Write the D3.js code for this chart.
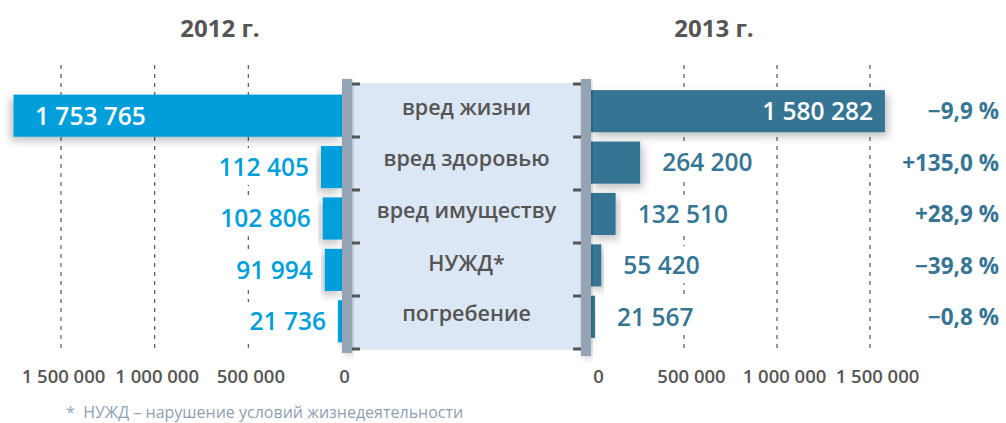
<!DOCTYPE html>
<html>
<head>
<meta charset="utf-8">
<script src="https://cdn.jsdelivr.net/npm/d3@7.9.0/dist/d3.min.js"></script>
<style>
  html, body { margin: 0; padding: 0; background: #fff; }
  svg { display: block; font-family: 'Open Sans', sans-serif; }
</style>
</head>
<body>
<svg id="chart" width="1006" height="423"></svg>
<script>
// data
const categories = ['вред жизни', 'вред здоровью', 'вред имуществу', 'НУЖД*', 'погребение'];
const values2012 = [1753765, 112405, 102806, 91994, 21736];
const values2013 = [1580282, 264200, 132510, 55420, 21567];
const years = ['2012 г.', '2013 г.'];
const tickValues = [0, 500000, 1000000, 1500000];
const footnote = '*  НУЖД – нарушение условий жизнедеятельности';

const colorLeft = '#009fdb';
const colorRight = '#367593';
const textGray = '#555555';

const locale = d3.formatLocale({ decimal: ',', thousands: ' ', grouping: [3], currency: ['', ''], minus: '−' });
const fmt = locale.format(',d');
const fmtPct = locale.format('+.1f');

const svg = d3.select('#chart');

// shadow filters
const defs = svg.append('defs');
function shadow(id, dx, dy, sd, op) {
  const f = defs.append('filter').attr('id', id)
    .attr('x', '-20%').attr('y', '-40%').attr('width', '140%').attr('height', '180%');
  f.append('feDropShadow').attr('dx', dx).attr('dy', dy)
    .attr('stdDeviation', sd).attr('flood-color', '#000').attr('flood-opacity', op);
}
shadow('shL', -3, 4, 4, 0.25);
shadow('shR', 3, 4, 4, 0.25);
shadow('shRail', 2, 2, 3, 0.2);

// scales
const xL = d3.scaleLinear().domain([0, 1500000]).range([342, 61]);
const xR = d3.scaleLinear().domain([0, 1500000]).range([591, 870]);
const y = d3.scaleBand().domain(categories).range([90, 347])
  .paddingInner(0.18).paddingOuter(0.09);
const rightShift = -4.5;
const sep = d3.scalePoint().domain(d3.range(categories.length + 1)).range([84, 349]);

// headers
svg.selectAll('text.year')
  .data(years)
  .join('text')
  .attr('class', 'year')
  .attr('x', (d, i) => i === 0 ? 220 : 714)
  .attr('y', 37)
  .attr('text-anchor', 'middle')
  .attr('font-size', 24)
  .attr('font-weight', 700)
  .attr('fill', textGray)
  .text((d) => d);

// dashed gridlines
const gridTicks = tickValues.filter((d) => d > 0);
const grid = svg.append('g').attr('stroke', textGray).attr('stroke-width', 1.2)
  .attr('stroke-dasharray', '4,5');
gridTicks.forEach((t) => {
  grid.append('line').attr('x1', xL(t)).attr('x2', xL(t)).attr('y1', 65).attr('y2', 352);
  grid.append('line').attr('x1', xR(t)).attr('x2', xR(t)).attr('y1', 65).attr('y2', 352);
});

// axis labels
function styleAxis(g) {
  g.select('.domain').remove();
  g.selectAll('text')
    .attr('font-size', 18.5)
    .attr('font-weight', 600)
    .attr('fill', textGray)
    .attr('font-family', "'Open Sans', sans-serif");
}
svg.append('g')
  .attr('transform', 'translate(2,370)')
  .call(d3.axisBottom(xL).tickValues(tickValues).tickSize(0).tickPadding(0).tickFormat(fmt))
  .call(styleAxis);
svg.append('g')
  .attr('transform', 'translate(7,370)')
  .call(d3.axisBottom(xR).tickValues(tickValues).tickSize(0).tickPadding(0).tickFormat(fmt))
  .call(styleAxis);

// bars
svg.append('g').selectAll('rect')
  .data(values2012)
  .join('rect')
  .attr('x', (d) => xL(d))
  .attr('y', (d, i) => y(categories[i]))
  .attr('width', (d) => xL(0) - xL(d))
  .attr('height', y.bandwidth())
  .attr('fill', colorLeft)
  .attr('filter', 'url(#shL)');

svg.append('g').selectAll('rect')
  .data(values2013)
  .join('rect')
  .attr('x', xR(0))
  .attr('y', (d, i) => y(categories[i]) + rightShift)
  .attr('width', (d) => xR(d) - xR(0))
  .attr('height', y.bandwidth())
  .attr('fill', colorRight)
  .attr('filter', 'url(#shR)');

// value labels
const valFont = 24.5;
function addLabel(g, x, cy, anchor, color, text, boxed) {
  const t = g.append('text')
    .attr('x', x)
    .attr('y', cy + 0.36 * valFont)
    .attr('text-anchor', anchor)
    .attr('font-size', valFont)
    .attr('font-weight', 600)
    .attr('fill', color)
    .text(text);
  if (boxed) {
    const b = t.node().getBBox();
    g.insert('rect', () => t.node())
      .attr('x', b.x - 6).attr('y', b.y - 2)
      .attr('width', b.width + 12).attr('height', b.height + 4)
      .attr('fill', '#fff');
  }
}
const labels = svg.append('g');
values2012.forEach((v, i) => {
  const cy = y(categories[i]) + y.bandwidth() / 2;
  if (i === 0) addLabel(labels, 35, cy, 'start', '#fff', fmt(v), false);
  else addLabel(labels, xL(v) - 12, cy, 'end', colorLeft, fmt(v), true);
});
values2013.forEach((v, i) => {
  const cy = y(categories[i]) + y.bandwidth() / 2 + rightShift;
  if (i === 0) addLabel(labels, xR(v) - 12, cy, 'end', '#fff', fmt(v), false);
  else addLabel(labels, xR(v) + 22, cy, 'start', colorRight, fmt(v), true);
});

// change percent
svg.append('g').selectAll('text')
  .data(values2013)
  .join('text')
  .attr('x', 999)
  .attr('y', (d, i) => y(categories[i]) + y.bandwidth() / 2 + rightShift + 0.36 * 22.5)
  .attr('text-anchor', 'end')
  .attr('font-size', 22.5)
  .attr('font-weight', 700)
  .attr('fill', colorRight)
  .text((d, i) => fmtPct((d / values2012[i] - 1) * 100) + ' %');

// center panel
svg.append('rect')
  .attr('x', 352).attr('y', 83).attr('width', 229).attr('height', 267)
  .attr('fill', '#dbe7f4');
svg.append('rect')
  .attr('x', 342).attr('y', 79).attr('width', 10).attr('height', 274)
  .attr('fill', '#94a4b5').attr('filter', 'url(#shRail)');
svg.append('rect')
  .attr('x', 581).attr('y', 79).attr('width', 10).attr('height', 277)
  .attr('fill', '#94a4b5').attr('filter', 'url(#shRail)');

// separator ticks on rails
const sepG = svg.append('g').attr('fill', '#555');
sep.domain().forEach((k) => {
  sepG.append('rect').attr('x', 352).attr('y', sep(k) - 1.5).attr('width', 8).attr('height', 3);
  sepG.append('rect').attr('x', 573).attr('y', sep(k) - 1.5).attr('width', 8).attr('height', 3);
});

// category labels
svg.append('g').selectAll('text')
  .data(categories)
  .join('text')
  .attr('x', 466.5)
  .attr('y', (d) => {
    const cy = y(d) + y.bandwidth() / 2 + rightShift - 2;
    return cy + (d === 'НУЖД*' ? 0.36 : 0.27) * 21.5;
  })
  .attr('text-anchor', 'middle')
  .attr('font-size', 21.5)
  .attr('font-weight', 600)
  .attr('fill', textGray)
  .text((d) => d);

// footnote
svg.append('text')
  .attr('x', 66)
  .attr('y', 418)
  .attr('font-size', 16)
  .attr('fill', '#8fa0b3')
  .attr('xml:space', 'preserve')
  .style('white-space', 'pre')
  .text(footnote);
</script>
</body>
</html>
